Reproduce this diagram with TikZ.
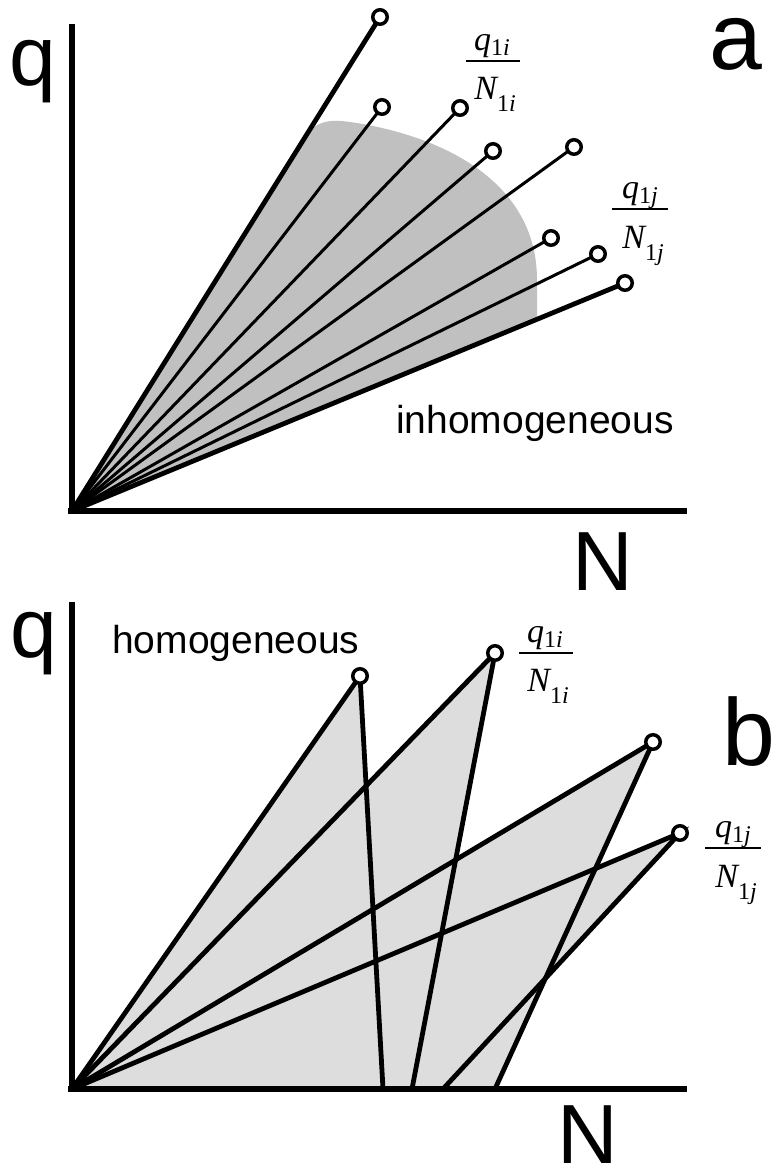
\documentclass[tikz,border=0pt]{standalone}
\usepackage{fontspec}
\setmainfont{Liberation Sans}
\newfontfamily\tms{Liberation Serif}
\definecolor{grayA}{RGB}{192,192,192}
\definecolor{grayB}{RGB}{221,221,221}
\newcommand{\numer}[1]{{\tms\itshape q\raisebox{-5pt}{\fontsize{24}{24}\selectfont\upshape 1\itshape #1}}}
\newcommand{\denom}[1]{{\tms\itshape N\raisebox{-12pt}{\fontsize{24}{24}\selectfont\upshape 1\itshape #1}}}
\tikzset{
  axis/.style={line width=6pt},
  thickray/.style={line width=4.8pt},
  thinray/.style={line width=3pt},
  dot/.style={circle, draw, fill=white, line width=3.5pt, minimum size=14.5pt, inner sep=0pt},
  biglabel/.style={font=\fontsize{84}{90}\selectfont, inner sep=0pt, anchor=base},
  panellabel/.style={font=\fontsize{95}{100}\selectfont, inner sep=0pt, anchor=base},
  wordlabel/.style={font=\fontsize{39}{44}\selectfont, inner sep=0pt},
  fracpart/.style={font=\fontsize{34}{38}\selectfont, inner sep=0pt, anchor=base},
  fracbar/.style={inner sep=0pt, anchor=center}
}
\begin{document}
\begin{tikzpicture}[x=1pt,y=-1pt]
\useasboundingbox (0,0) rectangle (773,1175);
% ---------------- panel a ----------------
\coordinate (Oa) at (72,511);
\coordinate (A1) at (380,17);
\coordinate (A2) at (382,107);
\coordinate (A3) at (460,108);
\coordinate (A4) at (493,151);
\coordinate (A5) at (574,147);
\coordinate (A6) at (551,238);
\coordinate (A7) at (598,254);
\coordinate (A8) at (625,283);
\fill[grayA] (Oa) -- (305,137) .. controls (315,121) and (330,119) .. (350,122)
  .. controls (440,135) and (537,180) .. (537,280) -- (537,320) -- cycle;
\coordinate (AyT) at (72,24);
\coordinate (AyB) at (72,514);
\coordinate (AxL) at (68,511);
\coordinate (AxR) at (687,511);
\draw[axis] (AyT) -- (AyB);
\draw[axis] (AxL) -- (AxR);
\draw[thickray] (Oa) -- (A1);
\draw[thinray] (Oa) -- (A2);
\draw[thinray] (Oa) -- (A3);
\draw[thinray] (Oa) -- (A4);
\draw[thinray] (Oa) -- (A5);
\draw[thinray] (Oa) -- (A6);
\draw[thinray] (Oa) -- (A7);
\draw[thickray] (Oa) -- (A8);
\foreach \p in {A1,A2,A3,A4,A5,A6,A7,A8} \node[dot] (d\p) at (\p) {};
\node[biglabel] (qa) at (33,85) {q};
\node[biglabel] (Na) at (603,590) {N};
\node[panellabel] (la) at (736,69) {a};
\node[wordlabel, anchor=base east] (inh) at (674,433) {inhomogeneous};
% fraction labels panel a
\node[fracbar] (faib) at (493,61) {\rule{54pt}{2pt}};
\node[fracpart] (fain) at (492,50) {\numer{i}};
\node[fracpart] (faid) at (495,99) {\denom{i}};
\node[fracbar] (fajb) at (640,209) {\rule{56pt}{2pt}};
\node[fracpart] (fajn) at (640,198) {\numer{j}};
\node[fracpart] (fajd) at (643,248) {\denom{j}};
% ---------------- panel b ----------------
\coordinate (Ob) at (72,1089);
\coordinate (B1) at (360,676);
\coordinate (B2) at (495,653);
\coordinate (B3) at (653,742);
\coordinate (B4) at (680,833);
\coordinate (F1) at (383,1089);
\coordinate (F2) at (412,1089);
\coordinate (F3) at (495,1089);
\coordinate (F4) at (443,1089);
\fill[grayB] (Ob) -- (B1) -- (F1) -- cycle;
\fill[grayB] (Ob) -- (B2) -- (F2) -- cycle;
\fill[grayB] (Ob) -- (B3) -- (F3) -- cycle;
\fill[grayB] (Ob) -- (B4) -- (F4) -- cycle;
\coordinate (ByT) at (72,602);
\coordinate (ByB) at (72,1092);
\coordinate (BxL) at (68,1089);
\coordinate (BxR) at (687,1089);
\draw[axis] (ByT) -- (ByB);
\draw[axis] (BxL) -- (BxR);
\draw[thickray, line join=miter] (Ob) -- (B1) -- (F1);
\draw[thickray, line join=miter] (Ob) -- (B2) -- (F2);
\draw[thickray, line join=miter] (Ob) -- (B3) -- (F3);
\draw[thickray, line join=miter] (Ob) -- (B4) -- (F4);
\foreach \p in {B1,B2,B3,B4} \node[dot] (d\p) at (\p) {};
\node[biglabel] (qb) at (34,657) {q};
\node[biglabel] (Nb) at (588,1163) {N};
\node[panellabel, anchor=base west] (lb) at (722,765) {b};
\node[wordlabel, anchor=base west] (hom) at (112,653) {homogeneous};
% fraction labels panel b
\node[fracbar] (fbib) at (546,653) {\rule{54pt}{2pt}};
\node[fracpart] (fbin) at (545,642) {\numer{i}};
\node[fracpart] (fbid) at (548,691) {\denom{i}};
\node[fracbar] (fbjb) at (733,848) {\rule{56pt}{2pt}};
\node[fracpart] (fbjn) at (733,837) {\numer{j}};
\node[fracpart] (fbjd) at (736,887) {\denom{j}};
\end{tikzpicture}
\end{document}
